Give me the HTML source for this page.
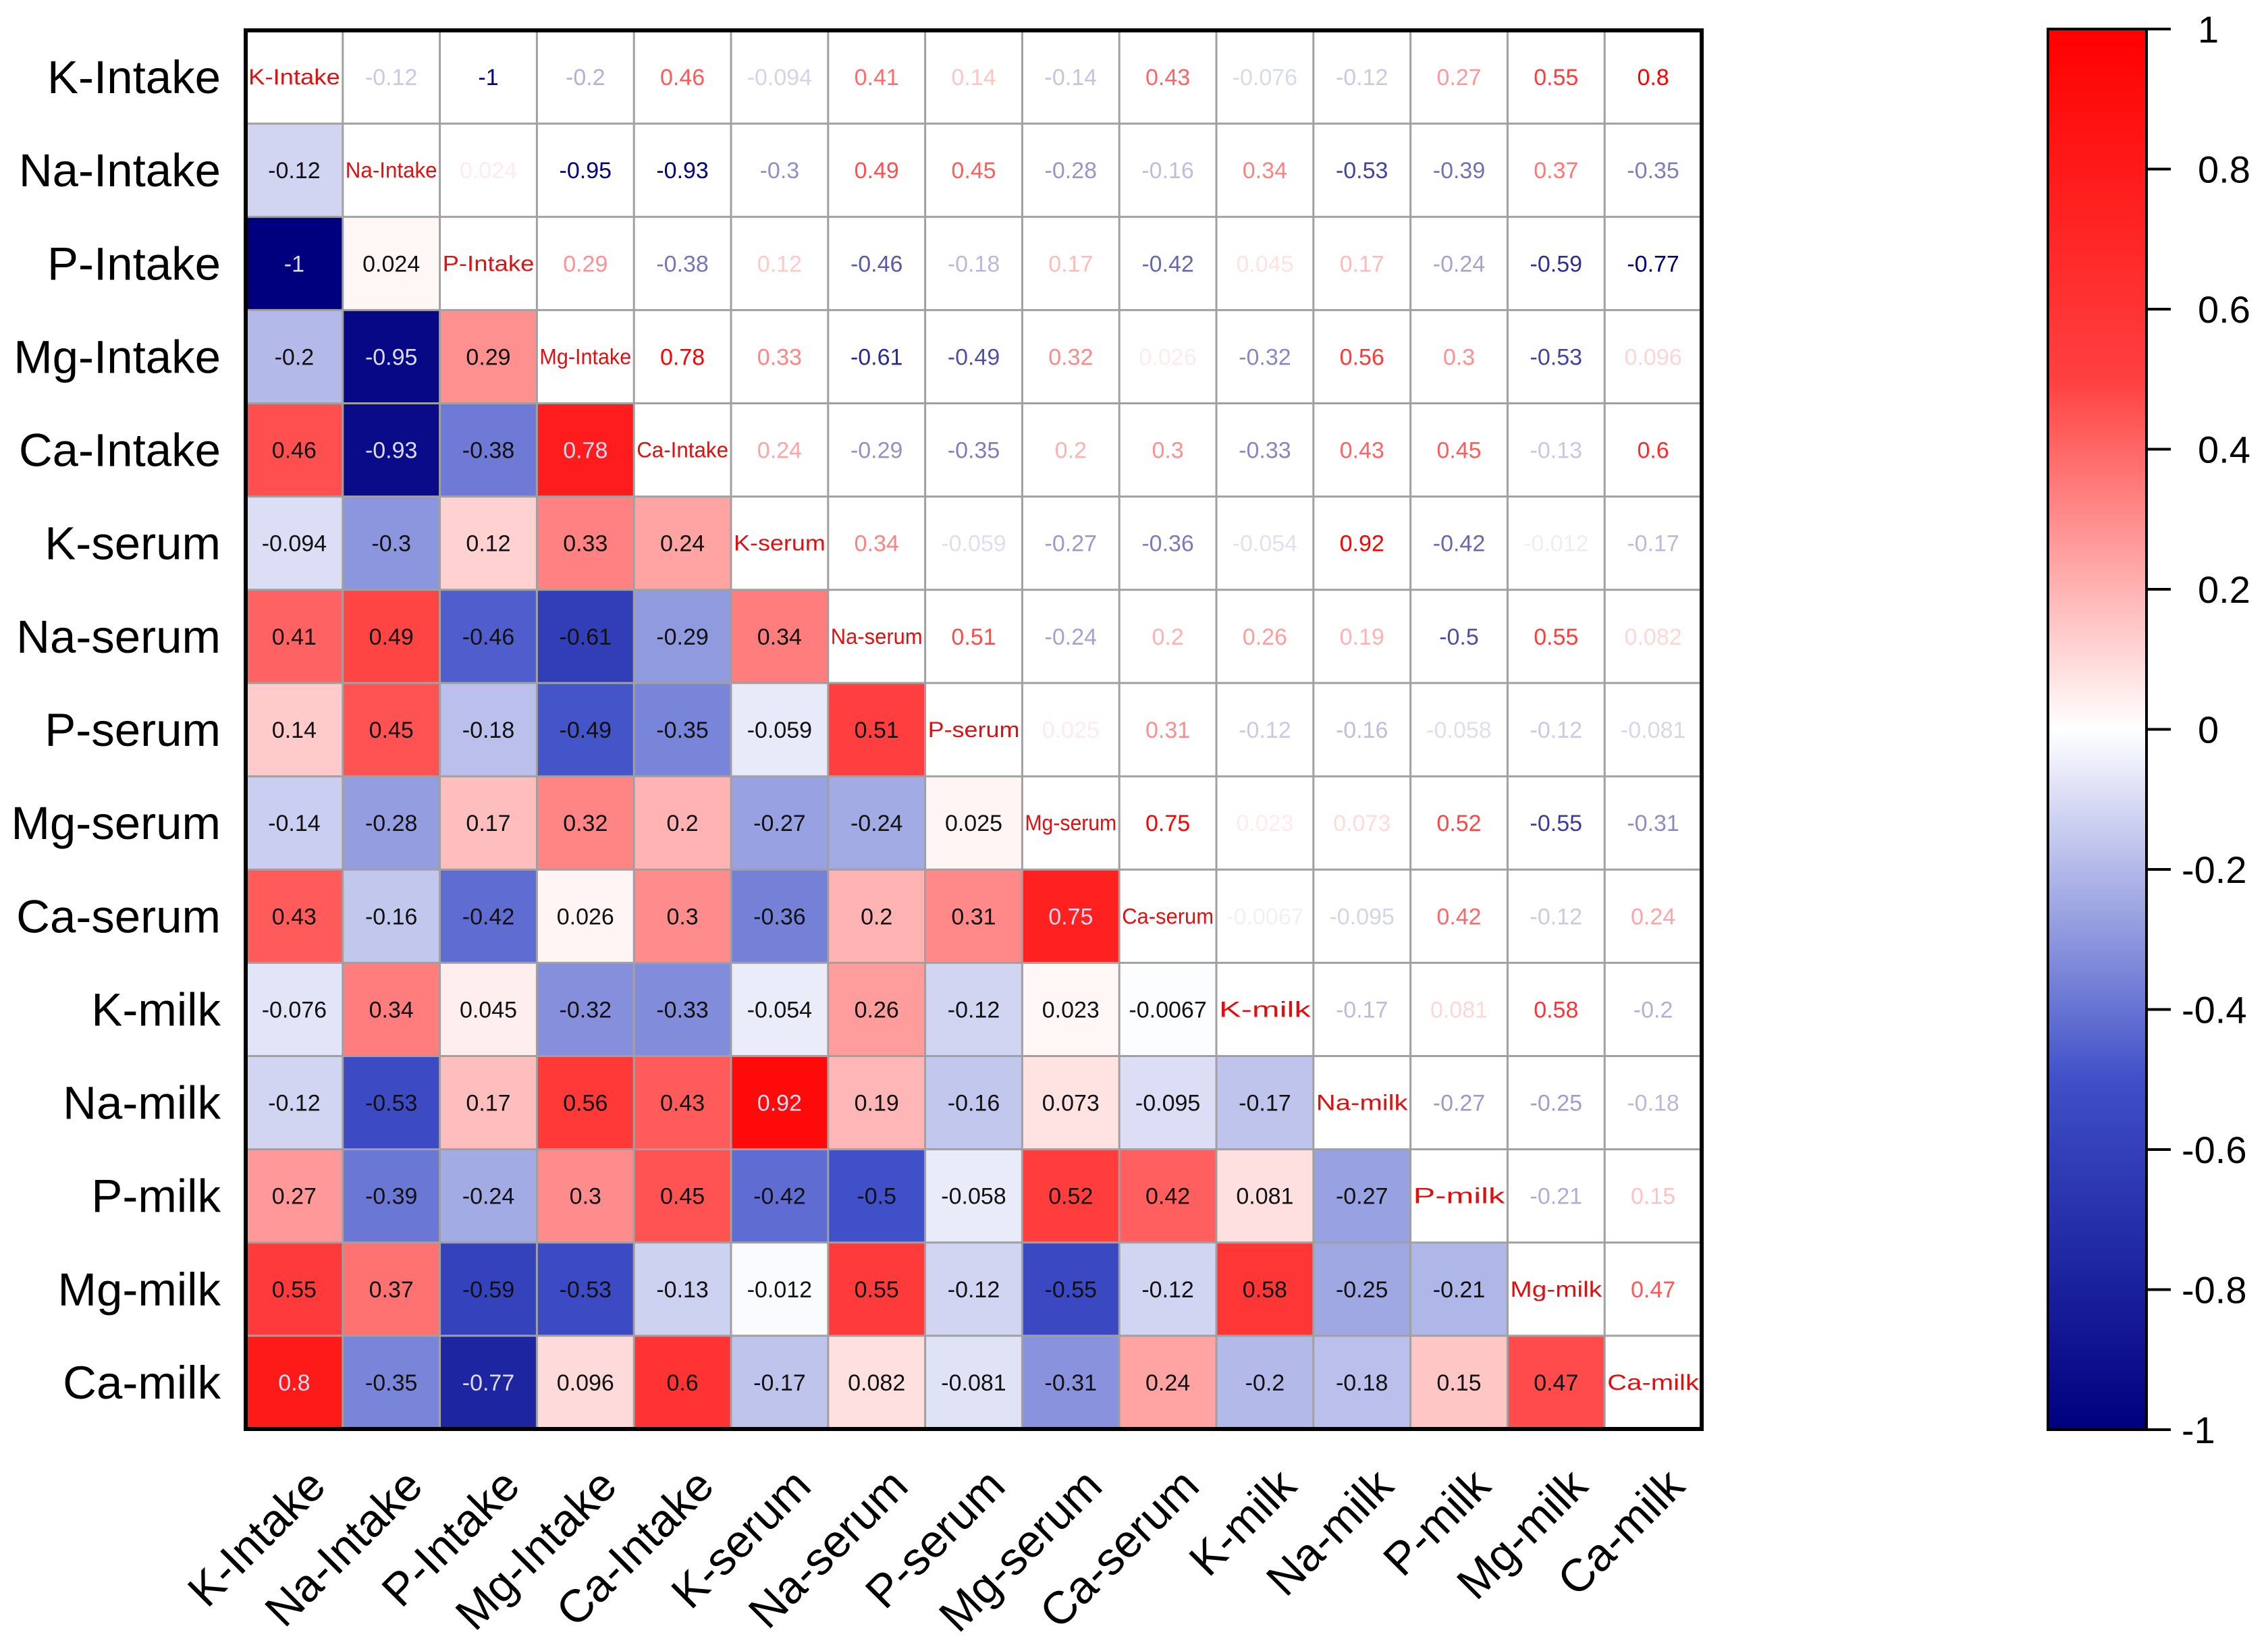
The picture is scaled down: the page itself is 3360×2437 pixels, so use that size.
<!DOCTYPE html>
<html><head><meta charset="utf-8">
<style>
html,body{margin:0;padding:0;background:#fff;}
svg{display:block;font-family:"Liberation Sans",Arial,sans-serif;}
</style></head>
<body>
<svg id="chart" width="3360" height="2437" viewBox="0 0 3360 2437" xmlns="http://www.w3.org/2000/svg">
<defs>
<linearGradient id="cbar" x1="0" y1="1" x2="0" y2="0">
<stop offset="0" stop-color="#00007f"/>
<stop offset="0.25" stop-color="#4050c8"/>
<stop offset="0.5" stop-color="#ffffff"/>
<stop offset="0.75" stop-color="#ff4040"/>
<stop offset="1" stop-color="#ff0000"/>
</linearGradient>
</defs>
<g id="cells"></g>
<g id="grid"></g>
<g id="labels"></g>
<g id="legend"></g>
</svg>
<script>
const categories = ["K-Intake","Na-Intake","P-Intake","Mg-Intake","Ca-Intake","K-serum","Na-serum","P-serum","Mg-serum","Ca-serum","K-milk","Na-milk","P-milk","Mg-milk","Ca-milk"];
const rowKIntake  = [1,-0.12,-1,-0.2,0.46,-0.094,0.41,0.14,-0.14,0.43,-0.076,-0.12,0.27,0.55,0.8];
const rowNaIntake = [-0.12,1,0.024,-0.95,-0.93,-0.3,0.49,0.45,-0.28,-0.16,0.34,-0.53,-0.39,0.37,-0.35];
const rowPIntake  = [-1,0.024,1,0.29,-0.38,0.12,-0.46,-0.18,0.17,-0.42,0.045,0.17,-0.24,-0.59,-0.77];
const rowMgIntake = [-0.2,-0.95,0.29,1,0.78,0.33,-0.61,-0.49,0.32,0.026,-0.32,0.56,0.3,-0.53,0.096];
const rowCaIntake = [0.46,-0.93,-0.38,0.78,1,0.24,-0.29,-0.35,0.2,0.3,-0.33,0.43,0.45,-0.13,0.6];
const rowKSerum   = [-0.094,-0.3,0.12,0.33,0.24,1,0.34,-0.059,-0.27,-0.36,-0.054,0.92,-0.42,-0.012,-0.17];
const rowNaSerum  = [0.41,0.49,-0.46,-0.61,-0.29,0.34,1,0.51,-0.24,0.2,0.26,0.19,-0.5,0.55,0.082];
const rowPSerum   = [0.14,0.45,-0.18,-0.49,-0.35,-0.059,0.51,1,0.025,0.31,-0.12,-0.16,-0.058,-0.12,-0.081];
const rowMgSerum  = [-0.14,-0.28,0.17,0.32,0.2,-0.27,-0.24,0.025,1,0.75,0.023,0.073,0.52,-0.55,-0.31];
const rowCaSerum  = [0.43,-0.16,-0.42,0.026,0.3,-0.36,0.2,0.31,0.75,1,-0.0067,-0.095,0.42,-0.12,0.24];
const rowKMilk    = [-0.076,0.34,0.045,-0.32,-0.33,-0.054,0.26,-0.12,0.023,-0.0067,1,-0.17,0.081,0.58,-0.2];
const rowNaMilk   = [-0.12,-0.53,0.17,0.56,0.43,0.92,0.19,-0.16,0.073,-0.095,-0.17,1,-0.27,-0.25,-0.18];
const rowPMilk    = [0.27,-0.39,-0.24,0.3,0.45,-0.42,-0.5,-0.058,0.52,0.42,0.081,-0.27,1,-0.21,0.15];
const rowMgMilk   = [0.55,0.37,-0.59,-0.53,-0.13,-0.012,0.55,-0.12,-0.55,-0.12,0.58,-0.25,-0.21,1,0.47];
const rowCaMilk   = [0.8,-0.35,-0.77,0.096,0.6,-0.17,0.082,-0.081,-0.31,0.24,-0.2,-0.18,0.15,0.47,1];
const matrix = [rowKIntake,rowNaIntake,rowPIntake,rowMgIntake,rowCaIntake,rowKSerum,rowNaSerum,rowPSerum,rowMgSerum,rowCaSerum,rowKMilk,rowNaMilk,rowPMilk,rowMgMilk,rowCaMilk];
const legendTicks = [1,0.8,0.6,0.4,0.2,0,-0.2,-0.4,-0.6,-0.8,-1];

const NS = "http://www.w3.org/2000/svg";
const X0 = 364, X1 = 2521, Y0 = 45, Y1 = 2117;
const n = categories.length;
const cw = (X1 - X0) / n, ch = (Y1 - Y0) / n;
function xScale(i){ return X0 + i * cw; }
function yScale(i){ return Y0 + i * ch; }
const stops = [[-1,[0,0,127]],[-0.5,[64,80,200]],[0,[255,255,255]],[0.5,[255,64,64]],[1,[255,0,0]]];
function colorOf(v){
  for(let k=0;k<stops.length-1;k++){
    const a=stops[k], b=stops[k+1];
    if(v<=b[0]){
      const t=(v-a[0])/(b[0]-a[0]);
      const c=a[1].map((q,j)=>Math.round(q+(b[1][j]-q)*t));
      return "rgb("+c.join(",")+")";
    }
  }
  return "rgb(255,0,0)";
}
function mk(tag, attrs, parent){
  const e=document.createElementNS(NS,tag);
  for(const k in attrs) e.setAttribute(k,attrs[k]);
  parent.appendChild(e); return e;
}
const gCells=document.getElementById("cells");
const gGrid=document.getElementById("grid");
const gLab=document.getElementById("labels");
const gLeg=document.getElementById("legend");

for(let r=0;r<n;r++){
  for(let c=0;c<n;c++){
    const v=matrix[r][c];
    const cx=xScale(c)+cw/2, cy=yScale(r)+ch/2;
    if(r>c){
      const rect=mk("rect",{x:xScale(c),y:yScale(r),width:cw,height:ch,fill:colorOf(v)},gCells);
      
      
      const t=mk("text",{x:cx,y:cy+12,"text-anchor":"middle","font-size":34,fill:Math.abs(v)>=0.7?"#dcdcf0":"#111"},gCells);
      t.textContent=String(v);
      
      
    } else if(r===c){
      const t=mk("text",{x:cx,y:cy+11,"text-anchor":"middle","font-size":32,fill:"#e01010",textLength:cw-8,lengthAdjust:"spacingAndGlyphs"},gCells);
      t.textContent=categories[r];
      
      
    } else {
      const col=v>=0?"255,0,0":"0,0,127";
      const a=Math.min(1,0.05+Math.abs(v)*1.3);
      const t=mk("text",{x:cx,y:cy+12,"text-anchor":"middle","font-size":34,fill:"rgba("+col+","+a.toFixed(2)+")"},gCells);
      t.textContent=String(v);
      
      
    }
  }
}
for(let i=1;i<n;i++){
  mk("line",{x1:xScale(i),x2:xScale(i),y1:Y0,y2:Y1,stroke:"#a0a0a0","stroke-width":3},gGrid);
  mk("line",{x1:X0,x2:X1,y1:yScale(i),y2:yScale(i),stroke:"#a0a0a0","stroke-width":3},gGrid);
}
const border=mk("rect",{x:X0,y:Y0,width:X1-X0,height:Y1-Y0,fill:"none",stroke:"#000","stroke-width":6},gGrid);



categories.forEach((name,i)=>{
  const t=mk("text",{x:327,y:yScale(i)+ch/2+24,"text-anchor":"end","font-size":69},gLab);
  t.textContent=name;
  
  
  const cx=xScale(i)+cw/2+50, cy=2205;
  const u=mk("text",{x:cx,y:cy,"text-anchor":"end","font-size":68,transform:"rotate(-45 "+cx+" "+cy+")"},gLab);
  u.textContent=name;
  
  
});

const LX0=3034, LX1=3180, LY0=43, LY1=2118;
function legY(v){ return LY0 + (1-v)/2*(LY1-LY0); }
const bar=mk("rect",{x:LX0,y:LY0,width:LX1-LX0,height:LY1-LY0,fill:"url(#cbar)",stroke:"#000","stroke-width":4},gLeg);


legendTicks.forEach(v=>{
  const y=legY(v);
  mk("line",{x1:LX1,x2:3216,y1:y,y2:y,stroke:"#000","stroke-width":4},gLeg);
  const t=mk("text",{x:v<0?3232:3256,y:y+20,"font-size":56},gLeg);
  t.textContent=String(v);
  
  
});
</script>
</body></html>
